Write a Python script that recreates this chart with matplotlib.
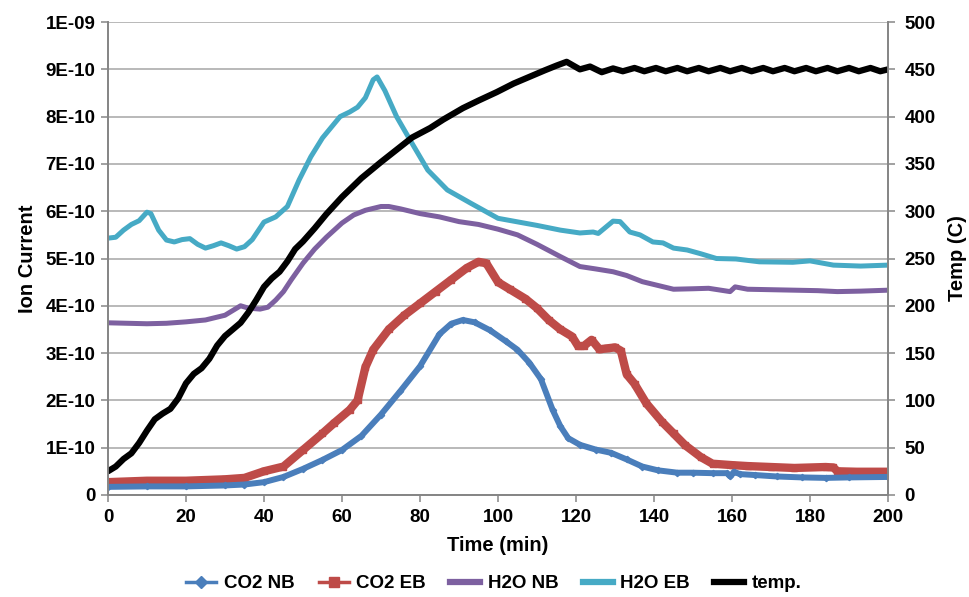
import matplotlib
matplotlib.use("Agg")
import matplotlib.pyplot as plt
from matplotlib.lines import Line2D

plt.rcParams['font.family'] = ['Liberation Sans', 'DejaVu Sans']
plt.rcParams['font.weight'] = 'bold'

# === data (ion current in units of 1E-10) ===
co2_nb_t = [0, 10, 20, 30, 35, 40, 45, 50, 55, 60, 65, 70, 75, 80, 85, 88, 91, 94, 98,
            102, 105, 108, 111, 114, 116, 118, 121, 125, 129, 133, 137, 141, 146,
            150, 155, 158.7, 159.5, 160.5, 162, 166, 171.5, 178, 184, 190, 200]
co2_nb = [0.17, 0.18, 0.18, 0.2, 0.22, 0.27, 0.38, 0.55, 0.74, 0.95, 1.25, 1.7, 2.2, 2.72,
          3.4, 3.62, 3.7, 3.65, 3.48, 3.25, 3.07, 2.8, 2.45, 1.8, 1.45, 1.2, 1.06, 0.96,
          0.89, 0.75, 0.6, 0.52, 0.47, 0.47, 0.46, 0.46, 0.39, 0.49, 0.44, 0.42, 0.39,
          0.37, 0.36, 0.37, 0.38]

co2_eb_t = [0, 10, 20, 30, 35, 40, 45, 50, 55, 58, 62, 64, 66, 68, 72, 76, 80, 84, 88, 92,
            95, 97, 100, 103, 107, 110, 113, 116, 119, 120.5, 122, 124, 126, 128, 130,
            131.5, 133, 135, 138, 142, 145, 148, 152, 155, 160, 164, 170, 176, 184, 186,
            187, 192, 200]
co2_eb = [0.27, 0.3, 0.3, 0.33, 0.36, 0.5, 0.6, 0.95, 1.3, 1.52, 1.8, 2.0, 2.7, 3.07, 3.5,
          3.8, 4.05, 4.3, 4.55, 4.8, 4.93, 4.9, 4.5, 4.35, 4.15, 3.95, 3.7, 3.5, 3.35,
          3.15, 3.15, 3.28, 3.08, 3.1, 3.12, 3.05, 2.55, 2.35, 1.94, 1.55, 1.3, 1.05,
          0.8, 0.66, 0.63, 0.61, 0.59, 0.57, 0.59, 0.58, 0.5, 0.49, 0.49]

h2o_nb_t = [0, 5, 10, 15, 20, 25, 30, 32, 34, 36, 39, 41, 43, 45, 47, 50, 53, 56, 60, 63,
            66, 70, 72, 75, 80, 85, 90, 95, 100, 105, 110, 113, 116, 121, 125, 129.5,
            133, 137, 141, 145, 150, 154, 159.5, 160.8, 164, 170, 176, 182, 187, 193, 200]
h2o_nb = [3.64, 3.63, 3.62, 3.63, 3.66, 3.7, 3.8, 3.9, 4.0, 3.95, 3.93, 3.97, 4.12, 4.3,
          4.55, 4.9, 5.2, 5.45, 5.75, 5.92, 6.02, 6.1, 6.1, 6.05, 5.95, 5.88, 5.78, 5.72,
          5.62, 5.5, 5.3, 5.17, 5.04, 4.83, 4.78, 4.72, 4.64, 4.51, 4.43, 4.35, 4.36,
          4.37, 4.3, 4.4, 4.35, 4.34, 4.33, 4.32, 4.3, 4.31, 4.33]

h2o_eb_t = [0, 2, 4, 6, 8, 10, 11, 13, 15, 17, 19, 21, 23, 25, 27, 29, 31, 33, 35, 37, 40,
            43, 46, 49, 52, 55, 57, 59.5, 62, 64, 66, 68, 69, 71, 74, 77.5, 82, 87, 93,
            100, 110, 116, 121, 124.4, 125.7, 129.5, 131.3, 133.8, 136.4, 139.7, 142.3,
            145, 148.5, 152, 156, 161, 167, 175.6, 180, 186, 193, 200]
h2o_eb = [5.43, 5.45, 5.6, 5.72, 5.8, 5.98, 5.95, 5.6, 5.39, 5.35, 5.4, 5.42, 5.3, 5.22,
          5.27, 5.33, 5.27, 5.2, 5.25, 5.4, 5.77, 5.88, 6.1, 6.66, 7.15, 7.55, 7.75, 8.0,
          8.1, 8.2, 8.4, 8.78, 8.84, 8.55, 8.0, 7.5, 6.87, 6.45, 6.17, 5.85, 5.7, 5.6,
          5.54, 5.56, 5.53, 5.79, 5.78, 5.56, 5.5, 5.35, 5.33, 5.22, 5.18, 5.1, 5.0, 4.99,
          4.93, 4.92, 4.95, 4.86, 4.84, 4.86]

temp_t = [0, 2, 4, 6, 8, 10, 12, 14, 16, 18, 20, 22, 24, 26, 28, 30, 32, 34, 36, 38, 40,
          42, 44, 46, 48, 50, 53, 56, 60, 65, 70, 74, 78, 82.6, 86, 91, 95, 99.7, 104,
          108, 112, 115, 117.6, 121, 123.6, 126.6, 129.5, 132, 135, 137.5, 140.5, 143,
          146, 148.5, 151.5, 154, 157, 159.5, 162.5, 165, 168, 170.5, 173.5, 176, 179,
          181.5, 184.5, 187, 190, 192.5, 195.5, 198, 200]
temp = [25, 30, 38, 44, 55, 68, 80, 86, 91, 102, 118, 128, 134, 144, 158, 168, 175, 182,
        193, 206, 220, 229, 236, 247, 260, 268, 282, 297, 315, 335, 352, 365, 378, 388,
        397, 409, 417, 426, 435, 442, 449, 454, 458, 450, 453, 447, 451, 448, 451.5, 448,
        451.5, 448, 451.5, 448, 451.5, 448, 451.5, 448, 451.5, 448, 451.5, 448, 451.5, 448,
        451.5, 448, 451.5, 448, 451.5, 448, 451.5, 448, 450]

left_ticks = [0, 1, 2, 3, 4, 5, 6, 7, 8, 9, 10]
left_labels = ["0", "1E-10", "2E-10", "3E-10", "4E-10", "5E-10", "6E-10", "7E-10",
               "8E-10", "9E-10", "1E-09"]

C_BLUE = "#4a7ebb"
C_RED = "#be4b48"
C_PURPLE = "#7d60a0"
C_CYAN = "#46aac5"
GRID = "#a6a6a6"
SPINE = "#868686"

fig = plt.figure(figsize=(9.7, 5.97), dpi=100)
ax = fig.add_axes([0.1113, 0.171, 0.8042, 0.792])
ax2 = ax.twinx()

ax.plot(h2o_eb_t, h2o_eb, color=C_CYAN, lw=3.6, solid_joinstyle="round", solid_capstyle="round")
ax.plot(h2o_nb_t, h2o_nb, color=C_PURPLE, lw=3.6, solid_joinstyle="round", solid_capstyle="round")
ax.plot(co2_eb_t, co2_eb, color=C_RED, lw=6, marker="s", ms=4.5, solid_joinstyle="round")
ax.plot(co2_nb_t, co2_nb, color=C_BLUE, lw=4.3, marker="D", ms=3.2, solid_joinstyle="round")
ax2.plot(temp_t, temp, color="black", lw=4.5, solid_joinstyle="round", solid_capstyle="round")

ax.set_xlim(0, 200)
ax.set_ylim(0, 10)
ax2.set_ylim(0, 500)
ax.set_xticks(range(0, 201, 20))
ax.set_yticks(left_ticks)
ax.set_yticklabels(left_labels)
ax2.set_yticks(range(0, 501, 50))

ax.grid(axis="y", color=GRID, lw=1.1)
ax.set_axisbelow(True)

for a in (ax, ax2):
    for s in a.spines.values():
        s.set_color(SPINE)
        s.set_linewidth(1.3)
    a.spines["top"].set_visible(False)
    a.tick_params(direction="out", length=5, width=1.1, color=SPINE, labelsize=13.5)
ax.tick_params(axis="x", pad=5)
ax.tick_params(axis="y", pad=4)
ax2.tick_params(axis="y", pad=7)

ax.set_xlabel("Time (min)", fontsize=14.5, fontweight="bold", labelpad=7)
ax.set_ylabel("Ion Current", fontsize=14.5, fontweight="bold", labelpad=6)
ax2.set_ylabel("Temp (C)", fontsize=14.5, fontweight="bold", labelpad=9)

handles = [
    Line2D([], [], color=C_BLUE, lw=2.5, marker="D", ms=6),
    Line2D([], [], color=C_RED, lw=2.5, marker="s", ms=7),
    Line2D([], [], color=C_PURPLE, lw=4.5),
    Line2D([], [], color=C_CYAN, lw=4.5),
    Line2D([], [], color="black", lw=4.5),
]
names = ["CO2 NB", "CO2 EB", "H2O NB", "H2O EB", "temp."]
fig.legend(handles, names, loc="center", bbox_to_anchor=(0.509, 0.022), ncol=5,
           frameon=False, fontsize=13.5, handlelength=1.6, columnspacing=1.3,
           handletextpad=0.4)

fig.savefig("out.png", dpi=100)
